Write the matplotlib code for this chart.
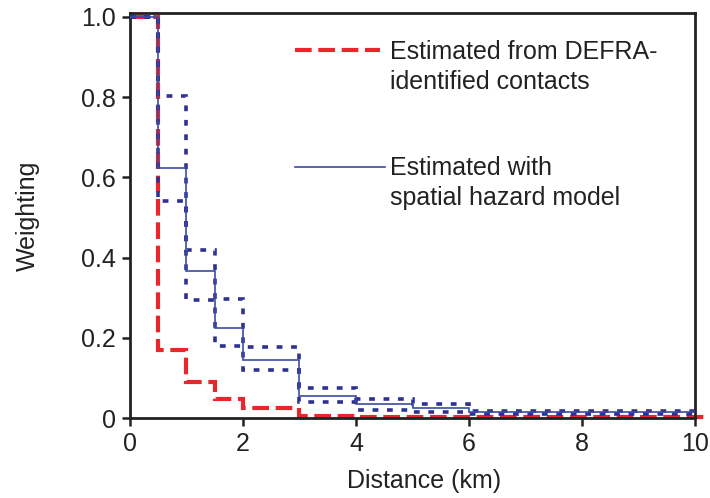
import numpy as np
import matplotlib.pyplot as plt
from matplotlib.lines import Line2D

plt.rcParams['font.family'] = ['Liberation Sans', 'DejaVu Sans']

# step edges (km) and weightings per distance band
edges = [0, 0.5, 1, 1.5, 2, 3, 4, 5, 6, 10]
defra_edges = [0, 0.5, 1, 1.5, 2, 3, 4, 5, 6, 10.3]
defra = [1.0, 0.17, 0.09, 0.047, 0.024, 0.006, 0.002, 0.002, 0.002]
hazard = [1.0, 0.623, 0.367, 0.224, 0.145, 0.055, 0.034, 0.024, 0.016]
hazard_hi = [1.0, 0.803, 0.42, 0.296, 0.176, 0.074, 0.047, 0.034, 0.018]
hazard_lo = [1.0, 0.54, 0.294, 0.18, 0.12, 0.039, 0.02, 0.014, 0.009]

red = '#e8262b'
navy = '#2e3192'
blue = '#3c4aa0'
ink = '#222222'
fs = 18

fig = plt.figure(figsize=(7.1, 4.98), dpi=100)
ax = fig.add_axes([0.183, 0.1606, 0.796, 0.8134])

# confidence bounds (dotted)
for vals in (hazard_hi, hazard_lo):
    ax.stairs(vals, edges, baseline=None, color=navy, lw=2.6,
              linestyle=(0, (1.6, 2.4)), zorder=3)
ax.stairs(hazard, edges, baseline=None, color=blue, lw=1.2, zorder=4)
ax.stairs(defra, defra_edges, baseline=None, color=red, lw=3,
          linestyle=(0, (4, 1.6)), zorder=2, clip_on=False)

ax.set_xlim(0, 10)
ax.set_ylim(0, 1.01)
ax.set_xticks([0, 2, 4, 6, 8, 10])
ax.set_yticks([0, 0.2, 0.4, 0.6, 0.8, 1.0])
ax.set_yticklabels(['0', '0.2', '0.4', '0.6', '0.8', '1.0'])
ax.tick_params(direction='out', length=6, width=1.8, labelsize=fs,
               color=ink, labelcolor=ink, pad=4)
for s in ax.spines.values():
    s.set_linewidth(2)
    s.set_color(ink)

ax.set_xlabel('Distance (km)', fontsize=fs, color=ink)
ax.set_ylabel('Weighting', fontsize=fs, color=ink)
ax.xaxis.set_label_coords(0.52, -0.125)
ax.yaxis.set_label_coords(-0.16, 0.5)

# legend drawn by hand
ax.add_line(Line2D([0.292, 0.442], [0.909, 0.909], transform=ax.transAxes,
                   color=red, lw=3, linestyle=(0, (4, 1.6))))
ax.text(0.46, 0.933, 'Estimated from DEFRA-\nidentified contacts',
        transform=ax.transAxes, fontsize=fs, color=ink,
        va='top', ha='left', linespacing=1.32)
ax.add_line(Line2D([0.292, 0.451], [0.62, 0.62], transform=ax.transAxes,
                   color=blue, lw=1.2))
ax.text(0.46, 0.648, 'Estimated with\nspatial hazard model',
        transform=ax.transAxes, fontsize=fs, color=ink,
        va='top', ha='left', linespacing=1.32)

fig.savefig('out.png', dpi=100)
